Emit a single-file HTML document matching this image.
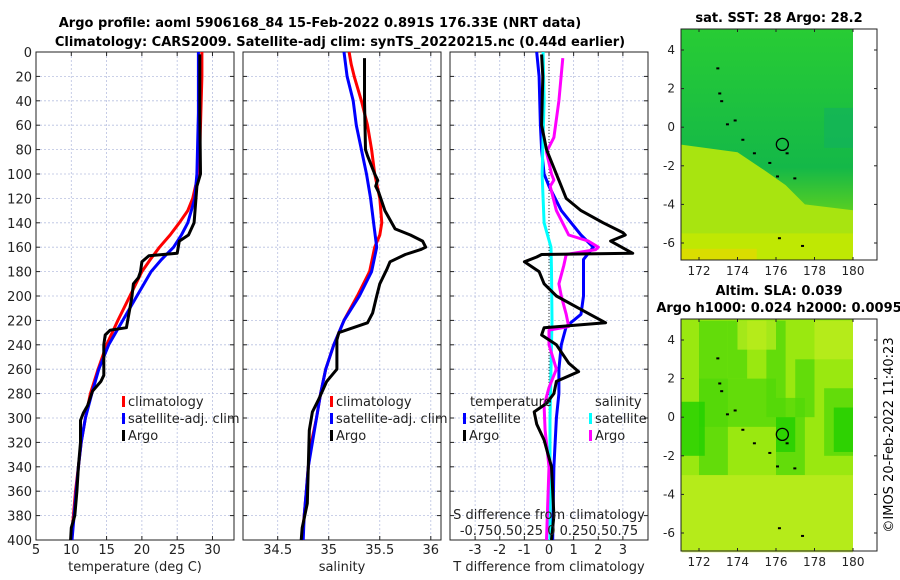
<!DOCTYPE html>
<html><head><meta charset="utf-8"><style>
body{margin:0;background:#fff;}
svg{display:block;font-family:"DejaVu Sans","Liberation Sans",sans-serif;}
</style></head><body>
<svg id="fig" width="900" height="580" viewBox="0 0 900 580">
<text x="320" y="27" font-size="13" font-weight="bold" text-anchor="middle">Argo profile: aoml 5906168_84 15-Feb-2022 0.891S 176.33E (NRT data)</text>
<text x="340" y="46" font-size="13" font-weight="bold" text-anchor="middle">Climatology: CARS2009. Satellite-adj clim: synTS_20220215.nc (0.44d earlier)</text>
<text x="779" y="22" font-size="13" font-weight="bold" text-anchor="middle">sat. SST: 28 Argo: 28.2</text>
<text x="779" y="295" font-size="13" font-weight="bold" text-anchor="middle">Altim. SLA: 0.039</text>
<text x="779" y="312" font-size="13" font-weight="bold" text-anchor="middle">Argo h1000: 0.024 h2000: 0.0095</text>
<text transform="translate(893,435) rotate(-90)" font-size="13" text-anchor="middle">©IMOS 20-Feb-2022 11:40:23</text>
</svg>
<script>
// ---------- data ----------
const depthTicks=[0,20,40,60,80,100,120,140,160,180,200,220,240,260,280,300,320,340,360,380,400];
const tempTicks=[5,10,15,20,25,30];
const salTicks=[34.5,35,35.5,36];
const diffTicks=[-3,-2,-1,0,1,2,3];

const tClimDepth=[0,20,40,60,80,100,110,120,130,140,150,160,170,180,200,220,240,260,280,300,320,340,360,380,400];
const tClimVal=[28.5,28.5,28.4,28.3,28.2,28.0,27.6,27.2,26.5,25.3,24.0,22.5,21.2,20.0,18.3,16.6,15.0,13.8,12.7,12.0,11.4,11.0,10.6,10.3,10.0];
const tSatDepth=[0,50,100,120,140,150,160,170,180,200,220,240,260,280,300,320,340,360,380,400];
const tSatVal=[28.0,28.0,27.8,27.5,26.5,25.6,24.5,22.8,21.3,19.3,17.3,15.3,13.9,12.9,12.0,11.4,11.0,10.7,10.4,10.1];
const tArgoDepth=[2,50,100,110,140,150,155,165,166,167,172,180,185,190,200,210,226,228,232,240,265,270,278,290,296,302,320,340,360,380,390,400];
const tArgoVal=[28.2,28.2,28.3,27.8,27.4,26.6,25.3,25.0,23.0,21.0,20.0,19.8,19.5,18.8,18.6,18.3,17.8,15.5,14.8,14.6,14.6,14.2,13.0,12.3,11.7,11.3,11.3,11.0,10.8,10.5,10.0,9.9];

const sClimDepth=[0,10,20,40,60,80,100,120,140,150,160,180,200,220,240,260,280,300,320,340,360,380,400];
const sClimVal=[35.2,35.22,35.25,35.32,35.38,35.42,35.45,35.5,35.52,35.5,35.45,35.4,35.28,35.15,35.05,34.97,34.92,34.88,34.83,34.8,34.78,34.76,34.74];
const sSatDepth=[0,20,40,60,80,100,120,140,160,180,200,220,240,260,280,300,320,340,360,380,400];
const sSatVal=[35.15,35.18,35.24,35.27,35.32,35.37,35.41,35.44,35.47,35.42,35.3,35.15,35.05,34.97,34.92,34.88,34.84,34.8,34.78,34.76,34.75];
const sArgoDepth=[5,40,80,85,100,105,110,115,130,145,150,155,160,162,166,172,178,190,200,214,222,230,236,245,260,270,285,295,310,340,370,390,400];
const sArgoVal=[35.35,35.35,35.36,35.38,35.45,35.48,35.46,35.49,35.55,35.65,35.8,35.92,35.95,35.9,35.75,35.6,35.57,35.5,35.47,35.43,35.38,35.1,35.08,35.08,35.08,34.98,34.9,34.84,34.81,34.8,34.79,34.74,34.73];

const dTSatDepth=[0,20,60,80,100,110,130,150,160,170,180,200,215,225,240,260,280,300,340,400];
const dTSatVal=[-0.5,-0.4,-0.35,-0.3,-0.2,0.0,0.5,1.3,1.8,1.4,1.4,1.4,1.3,0.7,0.5,0.4,0.4,0.3,0.2,0.15];
const dTArgoDepth=[2,20,60,80,95,110,120,130,140,148,150,155,165,166,168,172,180,190,200,210,222,226,232,240,255,262,270,280,288,295,305,318,340,380,400];
const dTArgoVal=[-0.3,-0.25,-0.3,-0.1,0.2,0.5,0.7,1.3,2.2,3.0,3.1,2.5,3.4,-0.3,-0.5,-1.0,-0.4,-0.2,0.3,1.2,2.3,-0.2,-0.3,0.3,0.8,1.2,0.3,0.2,-0.1,-0.6,-0.5,-0.2,0.1,0.2,0.1];
const dSSatDepth=[0,40,100,140,160,180,220,260,300,400];
const dSSatVal=[-0.06,-0.05,-0.07,-0.05,0.02,0.025,0.03,0.02,0.01,0.01];
const dSArgoDepth=[5,40,70,82,100,105,110,130,150,155,160,162,166,175,190,200,215,225,228,240,260,275,290,310,340,400];
const dSArgoVal=[0.14,0.1,0.05,-0.025,0.025,0.05,0.012,0.075,0.2,0.4,0.5,0.475,0.175,0.15,0.1,0.125,0.175,0.2,0.0,0.0,0.075,0.0,-0.05,-0.04,0.0,-0.025];

const lonTicks=[172,174,176,178,180];
const latTicks=[4,2,0,-2,-4,-6];
const argoLon=176.33, argoLat=-0.89;

// ---------- helpers ----------
const NS='http://www.w3.org/2000/svg';
const svg=document.getElementById('fig');
function mk(tag,attrs,parent){const e=document.createElementNS(NS,tag);for(const k in attrs)e.setAttribute(k,attrs[k]);(parent||svg).appendChild(e);return e;}
const Y0=52,Y1=540;
const yD=d=>Y0+(d/400)*(Y1-Y0);

function panel(name,x0,x1,xmin,xmax,ticks,showYLabels,xlabel){
  const g=mk('g',{});
  
  
  const xs=v=>x0+(v-xmin)/(xmax-xmin)*(x1-x0);
  mk('rect',{x:x0,y:Y0,width:x1-x0,height:Y1-Y0,fill:'#fff'},g);
  depthTicks.forEach(d=>{
    const gl=mk('line',{x1:x0,x2:x1,y1:yD(d),y2:yD(d),stroke:'#b8c0e0','stroke-width':0.8,'stroke-dasharray':'2,2'},g);
    
    
    mk('line',{x1:x0,x2:x0+4,y1:yD(d),y2:yD(d),stroke:'#222'},g);
    mk('line',{x1:x1-4,x2:x1,y1:yD(d),y2:yD(d),stroke:'#222'},g);
    if(showYLabels){const t=mk('text',{x:x0-4,y:yD(d)+5,'font-size':13,'text-anchor':'end',fill:'#222'},g);t.textContent=d;
      
      }
  });
  ticks.forEach(v=>{
    const X=xs(v);
    mk('line',{x1:X,x2:X,y1:Y0,y2:Y1,stroke:'#b8c0e0','stroke-width':0.8,'stroke-dasharray':'2,2'},g);
    mk('line',{x1:X,x2:X,y1:Y1,y2:Y1-4,stroke:'#222'},g);
    mk('line',{x1:X,x2:X,y1:Y0,y2:Y0+4,stroke:'#222'},g);
    const t=mk('text',{x:X,y:Y1+14,'font-size':13,'text-anchor':'middle',fill:'#222'},g);t.textContent=v;
    
    
  });
  mk('rect',{x:x0,y:Y0,width:x1-x0,height:Y1-Y0,fill:'none',stroke:'#222','stroke-width':1},g);
  const xl=mk('text',{x:(x0+x1)/2,y:Y1+31,'font-size':13,'text-anchor':'middle',fill:'#222'},g);xl.textContent=xlabel;
  
  
  return {g,xs};
}
function line(p,depths,vals,color,name,scale){
  const s=scale||1;
  const pts=depths.map((d,i)=>p.xs(vals[i]*s).toFixed(1)+','+yD(d).toFixed(1)).join(' ');
  const e=mk('polyline',{points:pts,fill:'none',stroke:color,'stroke-width':3,'stroke-linejoin':'round'},p.g);
  
  
}
function legend(g,x,y,color,label){
  const b=mk('rect',{x:x,y:y-10,width:3,height:11,fill:color},g);
  
  
  const t=mk('text',{x:x+6,y:y,'font-size':13,fill:'#222'},g);t.textContent=label;
  
  
}

// ---------- panel 1 ----------
const p1=panel('temperature-panel',36,234,5,33.05,tempTicks,true,'temperature (deg C)');
line(p1,tClimDepth,tClimVal,'#f00','temp-climatology-line');
line(p1,tSatDepth,tSatVal,'#00f','temp-satellite-line');
line(p1,tArgoDepth,tArgoVal,'#000','temp-argo-line');
legend(p1.g,122,406,'#f00','climatology');
legend(p1.g,122,423,'#00f','satellite-adj. clim');
legend(p1.g,122,440,'#000','Argo');

// ---------- panel 2 ----------
const p2=panel('salinity-panel',243,441,34.16,36.1,salTicks,false,'salinity');
line(p2,sClimDepth,sClimVal,'#f00','sal-climatology-line');
line(p2,sSatDepth,sSatVal,'#00f','sal-satellite-line');
line(p2,sArgoDepth,sArgoVal,'#000','sal-argo-line');
legend(p2.g,330,406,'#f00','climatology');
legend(p2.g,330,423,'#00f','satellite-adj. clim');
legend(p2.g,330,440,'#000','Argo');

// ---------- panel 3 ----------
const p3=panel('difference-panel',450,648,-4.02,4.02,diffTicks,false,'T difference from climatology');
const zl=mk('line',{x1:p3.xs(0),x2:p3.xs(0),y1:Y0,y2:Y1,stroke:'#333','stroke-width':1,'stroke-dasharray':'1,2'},p3.g);


line(p3,dTSatDepth,dTSatVal,'#00f','dT-satellite-line');
line(p3,dSSatDepth,dSSatVal,'#0ff','dS-satellite-line',4);
line(p3,dSArgoDepth,dSArgoVal,'#f0f','dS-argo-line',4);
line(p3,dTArgoDepth,dTArgoVal,'#000','dT-argo-line');
let tt=mk('text',{x:470,y:406,'font-size':13,fill:'#222'},p3.g);tt.textContent='temperature';


tt=mk('text',{x:595,y:406,'font-size':13,fill:'#222'},p3.g);tt.textContent='salinity';


legend(p3.g,463,423,'#00f','satellite');
legend(p3.g,463,440,'#000','Argo');
legend(p3.g,589,423,'#0ff','satellite');
legend(p3.g,589,440,'#f0f','Argo');
tt=mk('text',{x:549,y:519,'font-size':13,'text-anchor':'middle',fill:'#222'},p3.g);tt.textContent='S difference from climatology';


tt=mk('text',{x:549,y:535,'font-size':13,'text-anchor':'middle',fill:'#222'},p3.g);tt.textContent='-0.750.50.25 0  0.250.50.75';



// ---------- maps ----------
function map(name,top,bottom,lat4y,latm6y,fills){
  const g=mk('g',{});
  
  
  const L=681,R=877;
  const xs=lon=>699+(lon-172)*19.25;
  const ys=lat=>lat4y+(4-lat)*(latm6y-lat4y)/10;
  mk('rect',{x:L,y:top,width:R-L,height:bottom-top,fill:'#fff'},g);
  fills(g,L,xs(180),top,bottom,xs,ys);
  [[172.9,3.1],[173.0,1.8],[173.1,1.4],[173.4,0.2],[173.8,0.4],[174.2,-0.6],[174.8,-1.3],[175.6,-1.8],[176.0,-2.5],[176.5,-1.3],[176.9,-2.6],[176.1,-5.7],[177.3,-6.1]].forEach(c=>{
    const d=mk('rect',{x:xs(c[0]),y:ys(c[1]),width:3,height:2,fill:'#000'},g);
    
    
  });
  const c=mk('circle',{cx:xs(argoLon),cy:ys(argoLat),r:6,fill:'none',stroke:'#000','stroke-width':1.3},g);
  
  
  mk('rect',{x:L,y:top,width:R-L,height:bottom-top,fill:'none',stroke:'#222'},g);
  lonTicks.forEach(v=>{const X=xs(v);
    mk('line',{x1:X,x2:X,y1:bottom,y2:bottom-3,stroke:'#222'},g);
    mk('line',{x1:X,x2:X,y1:top,y2:top+3,stroke:'#222'},g);
    const t=mk('text',{x:X,y:bottom+15,'font-size':12,'text-anchor':'middle',fill:'#222'},g);t.textContent=v;
    
    });
  latTicks.forEach(v=>{const Y=ys(v);
    mk('line',{x1:L,x2:L+3,y1:Y,y2:Y,stroke:'#222'},g);
    mk('line',{x1:R-3,x2:R,y1:Y,y2:Y,stroke:'#222'},g);
    const t=mk('text',{x:L-6,y:Y+4,'font-size':12,'text-anchor':'end',fill:'#222'},g);t.textContent=v;
    
    });
}
map('sst-map',29,260,50,243,(g,L,R,top,bot,xs,ys)=>{
  const defs=mk('defs',{},g);
  const lg=mk('linearGradient',{id:'sstg',x1:0,y1:0,x2:0,y2:1},defs);
  mk('stop',{offset:'0','stop-color':'#28cc34'},lg);
  mk('stop',{offset:'0.6','stop-color':'#14b848'},lg);
  mk('stop',{offset:'0.8','stop-color':'#5cd020'},lg);
  mk('stop',{offset:'1','stop-color':'#b0e800'},lg);
  mk('rect',{x:L,y:top,width:R-L,height:bot-top,fill:'url(#sstg)'},g);
  mk('polygon',{points:`${L},${ys(-0.9)} ${xs(174)},${ys(-1.3)} ${xs(175.5)},${ys(-2.3)} ${xs(176.5)},${ys(-3)} ${xs(177.5)},${ys(-4)} ${R},${ys(-4.3)} ${R},${bot} ${L},${bot}`,fill:'#a8e410'},g);
  mk('rect',{x:L,y:ys(-5.5),width:R-L,height:bot-ys(-5.5),fill:'#c4e800',opacity:0.8},g);
  mk('rect',{x:L,y:ys(-6.3),width:xs(175)-L,height:bot-ys(-6.3),fill:'#e6d800',opacity:0.7},g);
  mk('rect',{x:xs(178.5),y:ys(1),width:R-xs(178.5),height:40,fill:'#10b060',opacity:0.6},g);
});
map('sla-map',319,551,340,533,(g,L,R,top,bot,xs,ys)=>{
  mk('rect',{x:L,y:top,width:R-L,height:bot-top,fill:'#9ae810'},g);
  const dark=[[172,5,173.5,-3],[173.5,5,174.5,2],[175.5,5,176.5,0],[176,1,177.5,-3],[178.5,1.5,180,-2],[177,3,178,0],[172,2,176,-0.5]];
  dark.forEach(r=>{const e=mk('rect',{x:xs(r[0]),y:ys(r[1]),width:xs(r[2])-xs(r[0]),height:ys(r[3])-ys(r[1]),fill:'#50d808',opacity:0.75},g);
    
    });
  [[171.1,0.8,172.3,-2],[176,0,177,-1.8],[179,0.5,180,-1.8]].forEach(r=>{mk('rect',{x:xs(r[0]),y:ys(r[1]),width:xs(r[2])-xs(r[0]),height:ys(r[3])-ys(r[1]),fill:'#20d000',opacity:0.8},g);});
  [[171.1,-3,180,-7],[174,5,176,3.5],[178,5,180,3]].forEach(r=>{mk('rect',{x:xs(r[0]),y:ys(r[1]),width:xs(r[2])-xs(r[0]),height:ys(r[3])-ys(r[1]),fill:'#c0ec20',opacity:0.7},g);});
});
</script>
</body></html>
